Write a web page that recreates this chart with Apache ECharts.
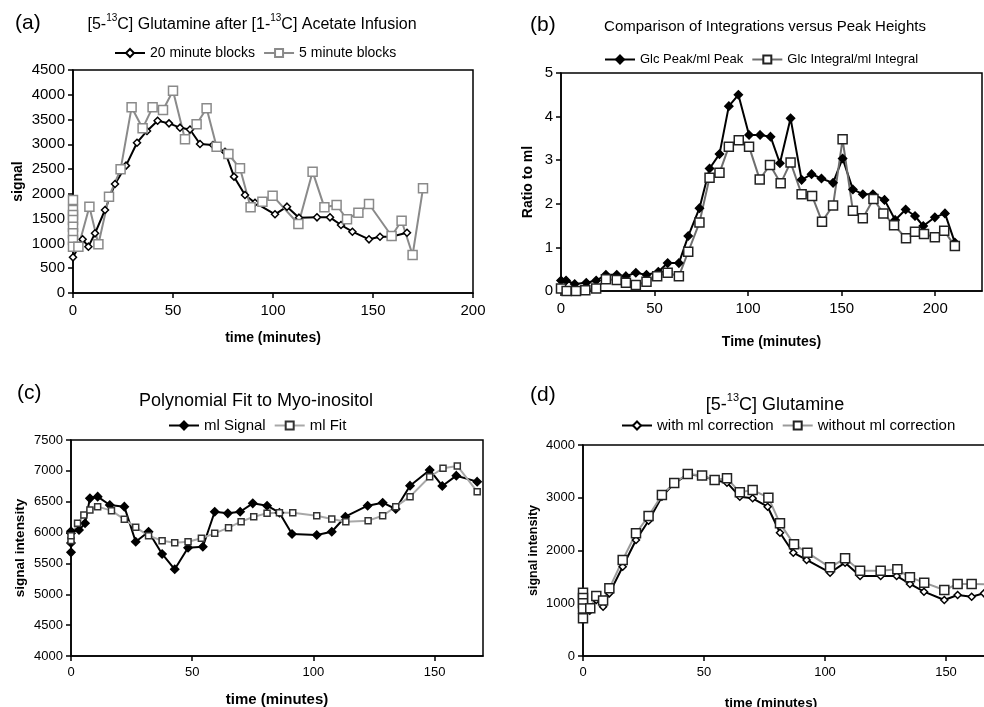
<!DOCTYPE html>
<html lang="en">
<head>
  <meta charset="utf-8">
  <title>Glutamine / Myo-inositol panels</title>
  <style>
    * { margin: 0; padding: 0; }
    #chart-container { width: 984px; height: 707px; background: #fff; }
  </style>
</head>
<body>
  <div id="chart-container"></div>
  <script src="https://cdn.jsdelivr.net/npm/echarts@6/dist/echarts.min.js"></script>
  <script>
    // (a) 20 minute blocks vs 5 minute blocks
    var aBlock20X = [0, 4.8, 7.7, 11, 16, 21, 26.5, 32, 37, 42.3, 48, 53.5, 58.5, 63.5, 70, 76, 80.5, 86, 91, 101, 107, 113, 122, 128.5, 134, 139.7, 148, 153.5, 159, 167];
    var aBlock20Y = [720, 1083, 935, 1204, 1675, 2200, 2570, 3033, 3270, 3477, 3423, 3336, 3300, 3006, 2987, 2850, 2348, 1977, 1822, 1588, 1742, 1520, 1527, 1527, 1372, 1237, 1083, 1136, 1136, 1217];
    var aBlock5X = [0, 0, 0, 0, 0, 0, 0, 0, 2.7, 8.2, 12.7, 18, 23.8, 29.3, 34.8, 39.8, 45, 50, 56, 61.8, 66.8, 71.8, 77.7, 83.5, 88.8, 94.7, 99.8, 112.7, 119.8, 125.7, 131.8, 137, 142.7, 148, 159.3, 164.3, 169.8, 175];
    var aBlock5Y = [1877, 1675, 1574, 1472, 1338, 1204, 1069, 935, 935, 1742, 982, 1943, 2496, 3747, 3323, 3747, 3692, 4082, 3101, 3404, 3727, 2952, 2805, 2516, 1729, 1843, 1964, 1392, 2448, 1729, 1776, 1487, 1620, 1796, 1150, 1459, 767, 2112];

    // (b) peak heights vs integrals
    var bPeakX = [0, 2.7, 7.3, 13.5, 18.8, 24, 29.8, 34.7, 40, 45.7, 52, 57, 63, 68, 74, 79.4, 84.7, 89.7, 94.8, 100.5, 106.4, 112, 117, 122.7, 128.6, 133.9, 139.2, 145.4, 150.5, 156, 161.3, 166.7, 172.9, 178.6, 184.2, 189.2, 193.6, 199.8, 205.2, 210.5];
    var bPeakY = [0.24, 0.24, 0.16, 0.19, 0.24, 0.37, 0.37, 0.34, 0.42, 0.37, 0.44, 0.64, 0.64, 1.26, 1.9, 2.81, 3.14, 4.24, 4.5, 3.58, 3.58, 3.54, 2.93, 3.96, 2.55, 2.68, 2.58, 2.48, 3.04, 2.33, 2.22, 2.22, 2.09, 1.63, 1.87, 1.72, 1.49, 1.69, 1.78, 1.11];
    var bIntX = [0, 3, 8, 13, 18.8, 24, 29.8, 34.7, 40, 45.7, 51.4, 57, 63, 68, 74, 79.4, 84.7, 89.7, 95, 100.5, 106.2, 111.7, 117.4, 122.7, 128.6, 134.2, 139.5, 145.4, 150.5, 156, 161.3, 167, 172.3, 178, 184.4, 189.2, 194, 199.8, 204.8, 210.5];
    var bIntY = [0.06, 0.0, 0.0, 0.02, 0.06, 0.27, 0.25, 0.19, 0.14, 0.21, 0.34, 0.42, 0.34, 0.9, 1.57, 2.6, 2.71, 3.31, 3.46, 3.31, 2.56, 2.89, 2.47, 2.95, 2.22, 2.18, 1.59, 1.96, 3.48, 1.84, 1.67, 2.11, 1.78, 1.51, 1.21, 1.36, 1.31, 1.23, 1.38, 1.03];

    // (c) myo-inositol signal and polynomial fit
    var cSignalX = [0, 0, 0, 0, 3.3, 5.8, 7.8, 11, 16, 22, 26.7, 32, 37.6, 42.8, 48.3, 54.4, 59.3, 64.7, 69.8, 75, 80.9, 86, 91.2, 101.4, 107.6, 113.2, 122.4, 128.6, 134, 139.9, 148, 153.2, 159, 167.6];
    var cSignalY = [5990, 5680, 5830, 6020, 6042, 6150, 6555, 6582, 6447, 6420, 5852, 6014, 5653, 5405, 5755, 5771, 6338, 6312, 6338, 6474, 6435, 6322, 5977, 5960, 6014, 6257, 6435, 6484, 6382, 6760, 7014, 6755, 6922, 6825];
    var cFitX = [0, 0, 2.7, 5.3, 7.8, 11, 16.7, 22, 26.7, 32, 37.6, 42.8, 48.3, 53.8, 59.3, 65, 70.2, 75.4, 80.9, 86, 91.5, 101.4, 107.6, 113.4, 122.6, 128.6, 134, 139.9, 148, 153.5, 159.4, 167.6];
    var cFitY = [5870, 5950, 6150, 6285, 6366, 6420, 6355, 6215, 6085, 5950, 5868, 5836, 5852, 5907, 5988, 6080, 6177, 6257, 6312, 6322, 6322, 6273, 6220, 6177, 6193, 6273, 6420, 6582, 6905, 7042, 7079, 6663];

    // (d) glutamine with / without mI correction
    var dWithX = [0, 0, 0, 0, 0, 2.8, 5.5, 8.3, 10.9, 16.4, 21.9, 27.1, 32.6, 37.7, 43.3, 49.2, 54.4, 59.5, 64.8, 70.1, 76.3, 81.4, 86.9, 92.4, 102.1, 108.3, 114.5, 123, 129.6, 135.1, 140.9, 149.3, 154.8, 160.6, 165.7, 170];
    var dWithY = [1150, 1050, 950, 850, 682, 859, 1062, 935, 1188, 1693, 2199, 2565, 3020, 3274, 3444, 3412, 3336, 3286, 3020, 2990, 2830, 2337, 1958, 1820, 1579, 1769, 1517, 1517, 1517, 1365, 1219, 1062, 1156, 1124, 1188, 1230];
    var dWithoutX = [0, 0, 0, 0, 0, 3, 5.5, 8.3, 10.9, 16.4, 21.9, 27.1, 32.6, 37.7, 43.3, 49.2, 54.4, 59.5, 64.8, 70.1, 76.6, 81.4, 87.2, 92.7, 102.1, 108.3, 114.5, 123, 129.9, 135.1, 141, 149.3, 154.8, 160.6, 170];
    var dWithoutY = [1200, 1100, 1000, 900, 714, 904, 1137, 1050, 1283, 1820, 2326, 2654, 3052, 3280, 3450, 3420, 3336, 3368, 3105, 3147, 3001, 2515, 2117, 1958, 1681, 1852, 1617, 1617, 1643, 1492, 1390, 1251, 1365, 1365, 1360];

    function pairs(xs, ys) {
      return xs.map(function (x, i) { return [x, ys[i]]; });
    }

    var dom = document.getElementById('chart-container');
    var myChart = echarts.init(dom, null, { renderer: 'canvas' });

    var FONT = 'Arial, "Liberation Sans", sans-serif';
    var plain = function (v) { return String(v); };

    function panelLabel(text, left, top) {
      return { text: text, left: left, top: top, textStyle: { fontFamily: FONT, fontSize: 21, fontWeight: 'normal', color: '#000' } };
    }
    function panelTitle(text, left, top, fs) {
      return {
        text: text, left: left, top: top, textAlign: 'center',
        textStyle: {
          fontFamily: FONT, fontSize: fs, fontWeight: 'normal', color: '#000', lineHeight: fs + 8,
          rich: { sup: { fontSize: Math.round(fs * 0.62), fontFamily: FONT, color: '#000', lineHeight: fs + 8, verticalAlign: 'top' } }
        }
      };
    }
    function legendAt(names, x, top, fs) {
      return {
        data: names, left: x, top: top, itemWidth: 30, itemHeight: 10, itemGap: 8,
        textStyle: { fontFamily: FONT, fontSize: fs, color: '#000' }
      };
    }
    function xAx(gi, max, name, gap, fs, nfs, namePad) {
      return {
        type: 'value', gridIndex: gi, min: 0, max: max, interval: 50,
        name: name, nameLocation: 'middle', nameGap: gap,
        nameTextStyle: { fontFamily: FONT, fontSize: nfs, fontWeight: 'bold', color: '#000', padding: namePad || 0 },
        axisLine: { show: true, lineStyle: { color: '#000', width: 1.5 } },
        axisTick: { show: true, length: 5, lineStyle: { color: '#000', width: 1.5 } },
        axisLabel: { fontFamily: FONT, fontSize: fs, color: '#000', margin: 10, formatter: plain, showMaxLabel: max % 50 === 0 },
        splitLine: { show: false }
      };
    }
    function yAx(gi, min, max, interval, name, gap, fs, nfs) {
      return {
        type: 'value', gridIndex: gi, min: min, max: max, interval: interval,
        name: name, nameLocation: 'middle', nameGap: gap, nameRotate: 90,
        nameTextStyle: { fontFamily: FONT, fontSize: nfs, fontWeight: 'bold', color: '#000' },
        axisLine: { show: true, lineStyle: { color: '#000', width: 1.5 } },
        axisTick: { show: true, length: 5, lineStyle: { color: '#000', width: 1.5 } },
        axisLabel: { fontFamily: FONT, fontSize: fs, color: '#000', margin: 8, formatter: plain },
        splitLine: { show: false }
      };
    }
    function lineSeries(name, gi, data, lineColor, symbol, size, fill, border) {
      return {
        name: name, type: 'line', xAxisIndex: gi, yAxisIndex: gi, data: data,
        symbol: symbol, symbolSize: size, showAllSymbol: true,
        lineStyle: { color: lineColor, width: 2 },
        itemStyle: { color: fill, borderColor: border, borderWidth: 1.5 },
        emphasis: { disabled: true }
      };
    }
    function gridAt(left, top, width, height) {
      return { left: left, top: top, width: width, height: height, show: true, borderColor: '#000', borderWidth: 1.5, outerBoundsMode: 'none', containLabel: false };
    }

    var option = {
      animation: false,
      backgroundColor: '#fff',
      title: [
        panelLabel('(a)', 10, 8),
        panelTitle('[5-{sup|13}C] Glutamine after [1-{sup|13}C] Acetate Infusion', 247, 8, 16),
        panelLabel('(b)', 525, 10),
        panelTitle('Comparison of Integrations versus Peak Heights', 760, 10, 15),
        panelLabel('(c)', 12, 378),
        panelTitle('Polynomial Fit to Myo-inositol', 251, 383, 18),
        panelLabel('(d)', 525, 380),
        panelTitle('[5-{sup|13}C] Glutamine', 770, 387, 18)
      ],
      legend: [
        legendAt(['20 minute blocks', '5 minute blocks'], 109, 41, 14),
        legendAt(['Glc Peak/ml Peak', 'Glc Integral/ml Integral'], 599, 48, 13),
        legendAt(['ml Signal', 'ml Fit'], 163, 413, 15),
        legendAt(['with ml correction', 'without ml correction'], 616, 413, 15)
      ],
      grid: [
        gridAt(73, 70, 400, 223),
        gridAt(561, 73, 421, 218),
        gridAt(71, 440, 412, 216),
        gridAt(583, 445, 484, 211)
      ],
      xAxis: [
        xAx(0, 200, 'time (minutes)', 38, 15, 14),
        xAx(1, 225, 'Time (minutes)', 44, 15, 14),
        xAx(2, 170, 'time (minutes)', 36, 13, 15),
        xAx(3, 200, 'time (minutes)', 40, 13, 13.5, [0, 108, 0, 0])
      ],
      yAxis: [
        yAx(0, 0, 4500, 500, 'signal', 48, 15, 14),
        yAx(1, 0, 5, 1, 'Ratio to ml', 26, 15, 14),
        yAx(2, 4000, 7500, 500, 'signal intensity', 44, 13, 13.5),
        yAx(3, 0, 4000, 1000, 'signal intensity', 43, 13, 12.5)
      ],
      series: [
        lineSeries('20 minute blocks', 0, pairs(aBlock20X, aBlock20Y), '#000', 'diamond', 7, '#fff', '#000'),
        lineSeries('5 minute blocks', 0, pairs(aBlock5X, aBlock5Y), '#8a8a8a', 'rect', 9, '#fff', '#8a8a8a'),
        lineSeries('Glc Peak/ml Peak', 1, pairs(bPeakX, bPeakY), '#000', 'diamond', 8, '#000', '#000'),
        lineSeries('Glc Integral/ml Integral', 1, pairs(bIntX, bIntY), '#6e6e6e', 'rect', 9, '#fff', '#222'),
        lineSeries('ml Signal', 2, pairs(cSignalX, cSignalY), '#000', 'diamond', 8, '#000', '#000'),
        lineSeries('ml Fit', 2, pairs(cFitX, cFitY), '#a8a8a8', 'rect', 6, '#fff', '#333'),
        lineSeries('with ml correction', 3, pairs(dWithX, dWithY), '#000', 'diamond', 7, '#fff', '#000'),
        lineSeries('without ml correction', 3, pairs(dWithoutX, dWithoutY), '#9a9a9a', 'rect', 9, '#fff', '#222')
      ]
    };

    myChart.setOption(option);
    window.addEventListener('resize', myChart.resize);
  </script>
</body>
</html>
